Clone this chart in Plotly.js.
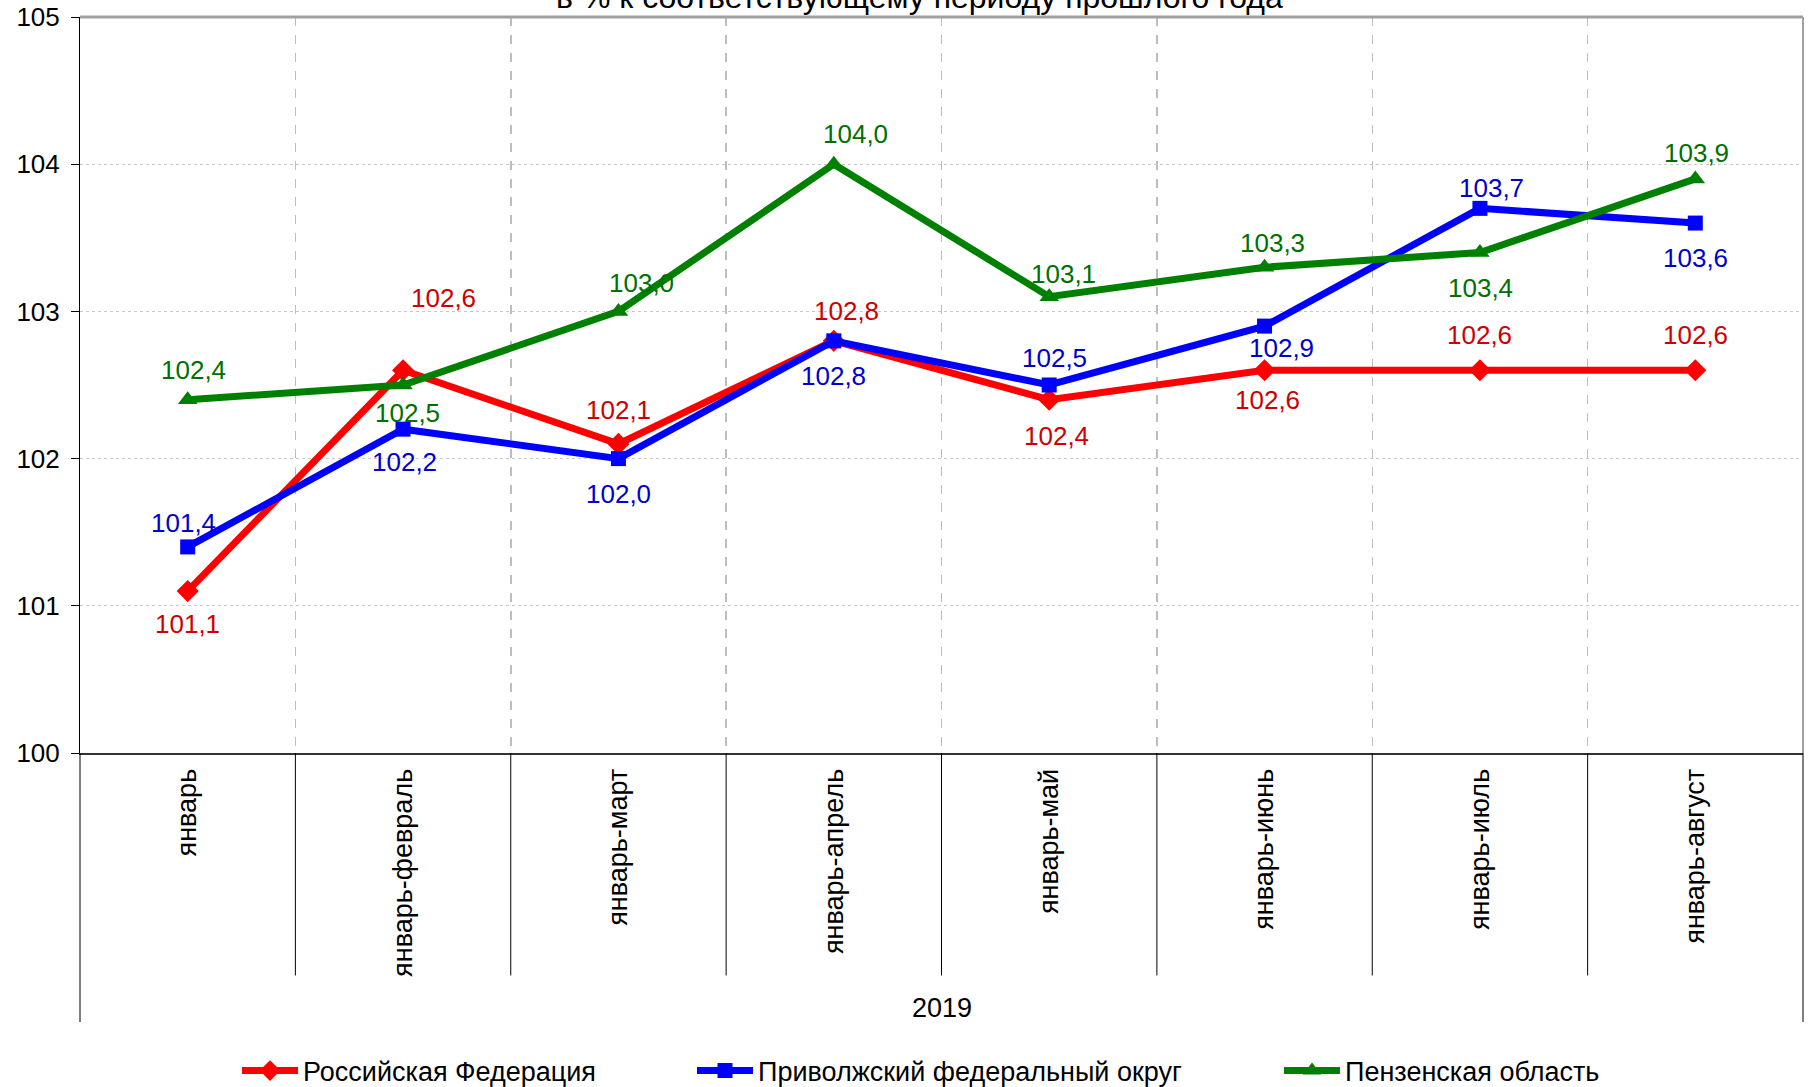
<!DOCTYPE html>
<html>
<head>
<meta charset="utf-8">
<script src="https://cdn.plot.ly/plotly-3.0.1.min.js"></script>
<style>html,body{margin:0;padding:0;background:#fff;}</style>
</head>
<body>
<div id="chart" style="width:1810px;height:1087px;"></div>
<script>
// ---- data ----
const categories = ['январь','январь-февраль','январь-март','январь-апрель','январь-май','январь-июнь','январь-июль','январь-август'];
const seriesNames = ['Российская Федерация','Приволжский федеральный округ','Пензенская область'];
const russia = [101.1, 102.6, 102.1, 102.8, 102.4, 102.6, 102.6, 102.6];
const volga  = [101.4, 102.2, 102.0, 102.8, 102.5, 102.9, 103.7, 103.6];
const penza  = [102.4, 102.5, 103.0, 104.0, 103.1, 103.3, 103.4, 103.9];
const yearLabel = '2019';
const titleText = 'в % к соответствующему периоду прошлого года';

// ---- label offsets (px, dx right, dy down) ----
const russiaDx = [0, 40, 0, 13, 7, 3, 0, 0];
const russiaDy = [33, -72, -34, -30, 36, 30, -35, -35];
const volgaDx  = [-4, 1, 0, 0, 5, 17, 12, 0];
const volgaDy  = [-24, 33, 35, 35, -27, 22, -20, 35];
const penzaDx  = [6, 4, 23, 22, 14, 8, 1, 1];
const penzaDy  = [-30, 28, -28, -30, -23, -24, 35, -26];

const FONT = 'Liberation Sans, Arial, sans-serif';
const FS = 26;      // numbers
const FS_CAT = 27;  // category labels, legend

const specs = [
  {y: russia, name: seriesNames[0], color: '#ff0000', textColor: '#cc0000', symbol: 'diamond', size: 17, dx: russiaDx, dy: russiaDy, legend: 'legend'},
  {y: volga,  name: seriesNames[1], color: '#0000ff', textColor: '#0000cc', symbol: 'square', size: 15, dx: volgaDx, dy: volgaDy, legend: 'legend2'},
  {y: penza,  name: seriesNames[2], color: '#008000', textColor: '#007000', symbol: 'triangle-up', size: 17, dx: penzaDx, dy: penzaDy, legend: 'legend3'}
];

const traces = specs.map(s => ({
  type: 'scatter', mode: 'lines+markers',
  x: categories, y: s.y, name: s.name, legend: s.legend,
  line: {color: s.color, width: 7},
  marker: {color: s.color, symbol: s.symbol, size: s.size},
  hoverinfo: 'skip'
}));

const annotations = [];
specs.forEach(s => {
  s.y.forEach((v, i) => {
    annotations.push({
      x: categories[i], y: v, xref: 'x', yref: 'y',
      text: v.toFixed(1).replace('.', ','),
      showarrow: false, xanchor: 'center', yanchor: 'middle',
      xshift: s.dx[i], yshift: -s.dy[i],
      font: {family: FONT, size: FS, color: s.textColor}
    });
  });
});
annotations.push({
  x: 0.5, y: -0.3465, xref: 'paper', yref: 'paper', text: yearLabel,
  showarrow: false, xanchor: 'center', yanchor: 'middle',
  font: {family: FONT, size: FS_CAT, color: '#000'}
});
annotations.push({
  x: 0.4875, y: 1.0, xref: 'paper', yref: 'paper', text: titleText,
  showarrow: false, xanchor: 'center', yanchor: 'bottom',
  font: {family: FONT, size: 32, color: '#000'}
});

const plotLeft = 80, plotW = 1723;
function legendX(px){ return (px - plotLeft) / plotW; }
const legendBase = {orientation: 'h', xanchor: 'left', yanchor: 'middle', yref: 'container', y: 1 - 1071/1087,
  font: {family: FONT, size: FS_CAT, color: '#000'}, bgcolor: 'rgba(0,0,0,0)', itemwidth: 56, itemclick: false, itemdoubleclick: false};

// frame decorations: separators between categories below the axis
const shapes = [
  {type: 'line', xref: 'paper', yref: 'paper', x0: 0, x1: 1, y0: 1, y1: 1, line: {color: '#a0a0a0', width: 3}},
  {type: 'line', xref: 'paper', yref: 'paper', x0: 1, x1: 1, y0: 1, y1: 0, line: {color: '#a0a0a0', width: 2}},
  {type: 'line', xref: 'paper', yref: 'paper', x0: 1, x1: 1, y0: 0, y1: -0.3655, line: {color: '#000', width: 1}},
  {type: 'line', xref: 'paper', yref: 'paper', x0: 0, x1: 0, y0: 0, y1: -0.3655, line: {color: '#000', width: 1}}
];
for (let i = 1; i < categories.length; i++) {
  shapes.push({type: 'line', xref: 'x', yref: 'paper', x0: i - 0.5, x1: i - 0.5, y0: 0, y1: -0.3023,
               line: {color: '#000', width: 1}});
}

const layout = {
  width: 1810, height: 1087,
  margin: {l: 80, r: 7, t: 17, b: 334, pad: 0},
  paper_bgcolor: '#fff', plot_bgcolor: '#fff',
  font: {family: FONT, size: FS, color: '#000'},
  showlegend: true,
  legend: Object.assign({}, legendBase, {x: legendX(237)}),
  legend2: Object.assign({}, legendBase, {x: legendX(692)}),
  legend3: Object.assign({}, legendBase, {x: legendX(1279)}),
  xaxis: {
    type: 'category', categoryorder: 'array', categoryarray: categories,
    range: [-0.5, categories.length - 0.5],
    tickson: 'boundaries', ticks: '', showgrid: true, gridcolor: '#bdbdbd', griddash: 'dash', gridwidth: 1.5,
    showline: true, linecolor: '#333', linewidth: 2,
    tickangle: -90, tickfont: {family: FONT, size: FS_CAT, color: '#000'}, ticklabelstandoff: 3,
    zeroline: false, fixedrange: true, automargin: false
  },
  yaxis: {
    range: [100, 105], dtick: 1, tick0: 100,
    showgrid: true, gridcolor: '#c8c8c8', griddash: 'dot', gridwidth: 1,
    showline: true, linecolor: '#000', linewidth: 1,
    ticks: 'outside', ticklen: 8, tickcolor: '#000',
    tickfont: {family: FONT, size: FS, color: '#000'}, ticklabelstandoff: 6,
    zeroline: false, fixedrange: true, automargin: false
  },
  shapes: shapes,
  annotations: annotations
};

Plotly.newPlot('chart', traces, layout, {displayModeBar: false, staticPlot: true});
</script>
</body>
</html>
